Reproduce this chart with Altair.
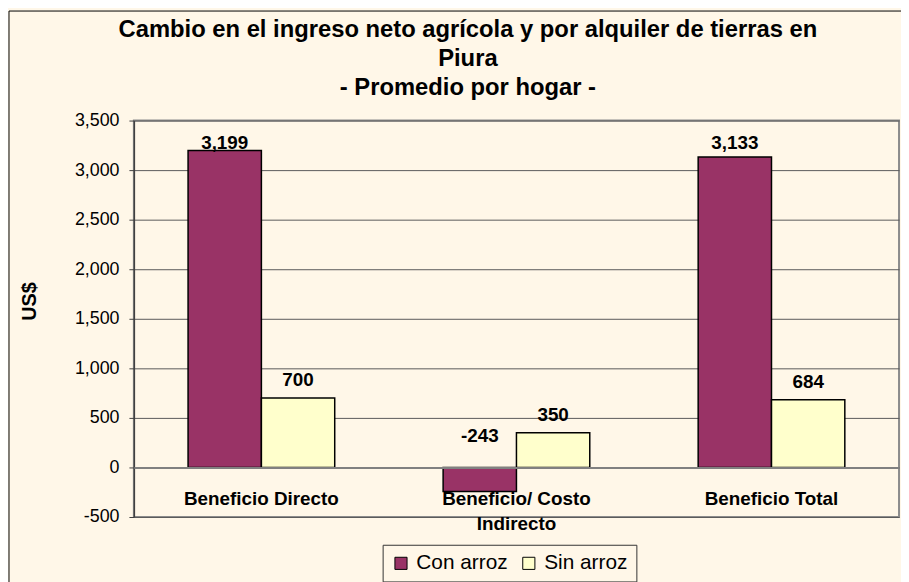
import altair as alt
import pandas as pd

# ---- data ----
categories = ["Beneficio Directo", "Beneficio/ Costo Indirecto", "Beneficio Total"]
series_names = ["Con arroz", "Sin arroz"]
con_arroz = [3199, -243, 3133]
sin_arroz = [700, 350, 684]
y_ticks = [-500, 0, 500, 1000, 1500, 2000, 2500, 3000, 3500]
title_lines = [
    "Cambio en el ingreso neto agrícola y por alquiler de tierras en",
    "Piura",
    "- Promedio por hogar -",
]
series_colors = ["#993366", "#FFFFCC"]

rows = []
for i, c in enumerate(categories):
    rows.append({"categoria": c, "serie": series_names[0], "valor": con_arroz[i]})
    rows.append({"categoria": c, "serie": series_names[1], "valor": sin_arroz[i]})
df = pd.DataFrame(rows)

W, H = 772, 400
BG = "#FFF7E8"
FONT = "Liberation Sans"

y_axis = alt.Axis(
    title="US$", values=y_ticks,
    labelExpr="datum.value < 0 ? '-' + format(-datum.value, ',') : format(datum.value, ',')",
    grid=True, gridColor="#5a5a5a", gridWidth=1,
    domainColor="#404040", domainWidth=1.5,
    tickColor="#404040", tickSize=5, tickWidth=1,
    labelFont=FONT, labelFontSize=18, labelColor="black", labelPadding=10,
    titleFont=FONT, titleFontSize=20, titleFontWeight="bold", titleColor="black",
    titleX=-105, titleY=182, titleAngle=270, titleBaseline="middle", titleAlign="center",
)
y_scale = alt.Scale(domain=[-500, 3500], nice=False)

x_axis = alt.Axis(
    title=None, offset=-50, domainColor="#808080", domainWidth=2, ticks=False,
    labelAngle=0, labelFont=FONT, labelFontSize=19, labelFontWeight="bold",
    labelColor="black", labelPadding=22, labelBaseline="top", labelLineHeight=26,
    labelLimit=0, zindex=1,
    labelExpr="datum.value == 'Beneficio/ Costo Indirecto' ? ['Beneficio/ Costo', 'Indirecto'] : datum.value",
)
x_scale = alt.Scale(paddingInner=0.425, paddingOuter=0.2125)

border = alt.Chart(alt.Data(values=[{}])).mark_rect(
    fill="transparent", stroke="black", strokeWidth=1
).encode(
    x=alt.value(-126), x2=alt.value(1500), y=alt.value(-110.5), y2=alt.value(1500)
)

bars = alt.Chart(df).mark_bar(stroke="black", strokeWidth=1.5).encode(
    x=alt.X("categoria:N", sort=categories, scale=x_scale, axis=x_axis),
    xOffset=alt.XOffset("serie:N", sort=series_names,
                        scale=alt.Scale(paddingInner=0, paddingOuter=0)),
    y=alt.Y("valor:Q", scale=y_scale, axis=y_axis),
    color=alt.Color(
        "serie:N",
        scale=alt.Scale(domain=series_names, range=series_colors),
        legend=alt.Legend(
            title=None, orient="none", legendX=251, legendY=428,
            direction="horizontal", fillColor=BG, strokeColor="#333333",
            padding=8, symbolType="square", symbolSize=150,
            symbolStrokeColor="black", symbolStrokeWidth=1, symbolOpacity=1,
            labelFont=FONT, labelFontSize=21, labelColor="black",
            labelOffset=5, columnPadding=10,
        ),
    ),
)

labels = alt.Chart(df).transform_calculate(
    etiqueta="(datum.valor < 0 ? '-' : '') + format(abs(datum.valor), ',')",
    pos="datum.valor >= 0 ? min(datum.valor + 180, 3270) : 320",
).mark_text(
    font=FONT, fontSize=19, fontWeight="bold", color="black", baseline="middle"
).encode(
    x=alt.X("categoria:N", sort=categories, scale=x_scale, axis=x_axis),
    xOffset=alt.XOffset("serie:N", sort=series_names),
    y=alt.Y("pos:Q", scale=y_scale, axis=y_axis),
    text="etiqueta:N",
)

chart = alt.layer(border, bars, labels).properties(
    width=W, height=H, background=BG,
    padding={"left": 127, "top": 111, "right": 2, "bottom": 63},
    autosize=alt.AutoSizeParams(type="none"),
    title=alt.TitleParams(
        text=title_lines, font=FONT, fontSize=24, fontWeight="bold",
        color="black", anchor="middle", dx=-49, offset=-90, lineHeight=29,
    ),
).configure_view(stroke="#8c8c8c", strokeWidth=2)

chart.save("out.html", embed_options={"renderer": "svg", "actions": False})
